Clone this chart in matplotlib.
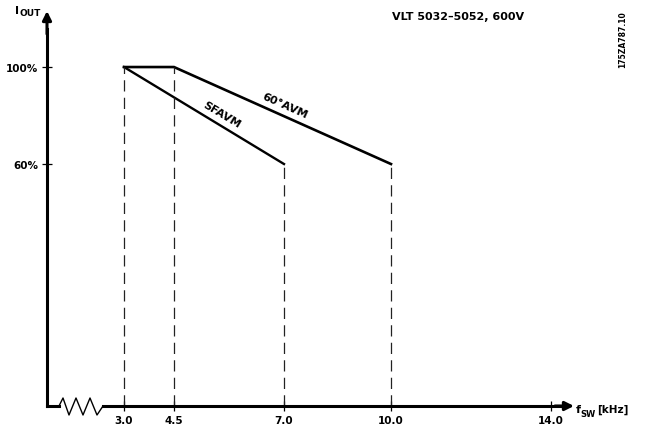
import numpy as np
import matplotlib
matplotlib.use("Agg")
import matplotlib.pyplot as plt
from matplotlib.lines import Line2D

# data
f_ticks = [3.0, 4.5, 7.0, 10.0, 14.0]
f_labels = ["3.0", "4.5", "7.0", "10.0", "14.0"]
avm60_f = [3.0, 4.5, 10.0]
avm60_i = [100, 100, 60]
sfavm_f = [3.0, 7.0]
sfavm_i = [100, 60]
i_ticks = [60, 100]
i_labels = ["60%", "100%"]

W, H = 645, 435
FONT = "DejaVu Sans"

def fx(px):
    return px / W

def fy(py):
    return 1 - py / H

# schematic (non-linear) frequency axis, kHz -> pixel position
knot_k = np.array([0.0, 3.0, 4.5, 7.0, 10.0, 14.0, 15.1])
knot_p = np.array([47, 124, 174, 284, 391, 551, 595.0])

def fwd(x):
    return np.interp(x, knot_k, knot_p)

def inv(p):
    return np.interp(p, knot_p, knot_k)

fig = plt.figure(figsize=(W / 100, H / 100), dpi=100)
ax = fig.add_axes([fx(47), fy(407), (573 - 47) / W, (407 - 13) / H])
ax.set_xscale("function", functions=(fwd, inv))
ax.set_xlim(0.0, 14.55)
ybot, ytop = -39.8, 122.7
ax.set_ylim(ybot, ytop)

for s in ["top", "right", "bottom", "left"]:
    ax.spines[s].set_visible(False)

ax.plot(avm60_f, avm60_i, color="black", lw=1.9, solid_joinstyle="miter")
ax.plot(sfavm_f, sfavm_i, color="black", lw=1.7)

# dashed drop lines
ends = {}
for f, i in zip(avm60_f + sfavm_f, avm60_i + sfavm_i):
    ends[f] = i
for f, i in ends.items():
    ax.plot([f, f], [ybot, i], color="#222222", lw=0.9, dashes=(9, 5))

ax.set_xticks(f_ticks)
ax.set_xticklabels(f_labels)
ax.set_yticks(i_ticks)
ax.set_yticklabels(i_labels)
ax.tick_params(axis="both", direction="inout", length=7, width=0.9,
               labelsize=7.5, pad=3)
for t in ax.get_xticklabels() + ax.get_yticklabels():
    t.set_fontfamily(FONT)
    t.set_fontweight("bold")

# axes with arrows and the break mark
ax_lw = 2.2
fig.add_artist(Line2D([fx(47), fx(47)], [fy(407), fy(30)], color="black", lw=ax_lw))
fig.add_artist(Line2D([fx(47), fx(59)], [fy(407), fy(407)], color="black", lw=ax_lw,
                      solid_capstyle="projecting"))
zz_x = [59, 63, 69, 76, 83, 90, 97, 103]
zz_y = [407, 399, 416, 399, 416, 399, 416, 407]
fig.add_artist(Line2D([fx(v) for v in zz_x], [fy(v) for v in zz_y], color="black", lw=1.0))
fig.add_artist(Line2D([fx(103), fx(560)], [fy(407), fy(407)], color="black", lw=ax_lw))
ax.annotate("", xy=(fx(574), fy(407)), xytext=(fx(555), fy(407)),
            xycoords="figure fraction", textcoords="figure fraction",
            arrowprops=dict(arrowstyle="-|>", color="black", lw=ax_lw,
                            mutation_scale=13, shrinkA=0, shrinkB=0))
ax.annotate("", xy=(fx(47), fy(12)), xytext=(fx(47), fy(35)),
            xycoords="figure fraction", textcoords="figure fraction",
            arrowprops=dict(arrowstyle="-|>", color="black", lw=ax_lw,
                            mutation_scale=13, shrinkA=0, shrinkB=0))

tkw = dict(fontfamily=FONT, fontweight="bold", color="black")
fig.text(fx(15), fy(11), "I", fontsize=8, ha="left", va="center", **tkw)
fig.text(fx(19), fy(14), "OUT", fontsize=6.5, ha="left", va="center", **tkw)
fig.text(fx(576), fy(410), "f", fontsize=8, ha="left", va="center", **tkw)
fig.text(fx(580), fy(415), "SW", fontsize=6, ha="left", va="center", **tkw)
fig.text(fx(597), fy(410), "[kHz]", fontsize=7.5, ha="left", va="center", **tkw)
fig.text(fx(392), fy(17), "VLT 5032\u20135052, 600V", fontsize=8, ha="left", va="center", **tkw)
fig.text(fx(623), fy(40), "175ZA787.10", fontsize=5.5, rotation=90,
         ha="center", va="center", **tkw)
fig.text(fx(285), fy(106), "60\u00b0AVM", fontsize=8, rotation=-24,
         ha="center", va="center", rotation_mode="anchor", **tkw)
fig.text(fx(222), fy(115), "SFAVM", fontsize=8, rotation=-31,
         ha="center", va="center", rotation_mode="anchor", **tkw)

fig.savefig("out.png", dpi=100)
